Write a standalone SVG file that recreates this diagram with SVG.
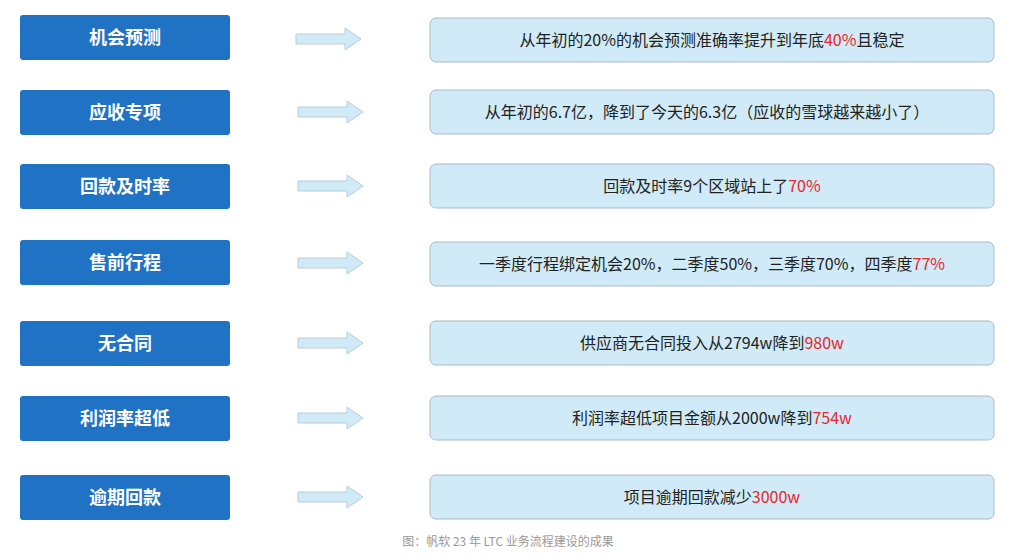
<svg xmlns="http://www.w3.org/2000/svg" width="1031" height="558" viewBox="0 0 1031 558">
<style>
.l{fill:#1f72c4;rx:3}
.lt{font-family:"Noto Sans CJK SC",sans-serif;font-size:18px;font-weight:bold;fill:#fff;text-anchor:middle}
.r{fill:#d0ebf7;stroke:#a9b8c4;stroke-width:1}
.rt{font-family:"Noto Sans CJK SC",sans-serif;font-size:16px;fill:#222;text-anchor:middle}
.red{fill:#e8262b}
.a{fill:#d0ebf7;stroke:#b9cdd8;stroke-width:1}
.cap{font-family:"Noto Sans CJK SC",sans-serif;font-size:12px;fill:#999;text-anchor:middle}
</style>
<defs><path id="arr" class="a" d="M0,-5 H49 V-11 L65,0 L49,11 V5 H0 Z"/></defs>
<g id="connectors">
<use href="#arr" x="296" y="39"/>
<use href="#arr" x="298" y="112"/>
<use href="#arr" x="298" y="186"/>
<use href="#arr" x="298" y="263"/>
<use href="#arr" x="298" y="343"/>
<use href="#arr" x="298" y="418"/>
<use href="#arr" x="298" y="497"/>
</g>
<g id="n1"><rect class="l" x="20" y="15" width="210" height="45" rx="3"/><text class="lt" x="125" y="44">机会预测</text></g>
<g id="n2"><rect class="l" x="20" y="90" width="210" height="45" rx="3"/><text class="lt" x="125" y="119">应收专项</text></g>
<g id="n3"><rect class="l" x="20" y="164" width="210" height="45" rx="3"/><text class="lt" x="125" y="193">回款及时率</text></g>
<g id="n4"><rect class="l" x="20" y="240" width="210" height="45" rx="3"/><text class="lt" x="125" y="269">售前行程</text></g>
<g id="n5"><rect class="l" x="20" y="321" width="210" height="45" rx="3"/><text class="lt" x="125" y="350">无合同</text></g>
<g id="n6"><rect class="l" x="20" y="396" width="210" height="45" rx="3"/><text class="lt" x="125" y="425">利润率超低</text></g>
<g id="n7"><rect class="l" x="20" y="475" width="210" height="45" rx="3"/><text class="lt" x="125" y="504">逾期回款</text></g>
<g id="r1"><rect class="r" x="430" y="18" width="564" height="44" rx="6"/><text class="rt" x="712" y="46">从年初的20%的机会预测准确率提升到年底<tspan class="red">40%</tspan>且稳定</text></g>
<g id="r2"><rect class="r" x="430" y="90" width="564" height="44" rx="6"/><text class="rt" x="707" y="118">从年初的6.7亿，降到了今天的6.3亿（应收的雪球越来越小了）</text></g>
<g id="r3"><rect class="r" x="430" y="164" width="564" height="44" rx="6"/><text class="rt" x="712" y="192">回款及时率9个区域站上了<tspan class="red">70%</tspan></text></g>
<g id="r4"><rect class="r" x="430" y="242" width="564" height="44" rx="6"/><text class="rt" x="712" y="270">一季度行程绑定机会20%，二季度50%，三季度70%，四季度<tspan class="red">77%</tspan></text></g>
<g id="r5"><rect class="r" x="430" y="321" width="564" height="44" rx="6"/><text class="rt" x="712" y="349">供应商无合同投入从2794w降到<tspan class="red">980w</tspan></text></g>
<g id="r6"><rect class="r" x="430" y="396" width="564" height="44" rx="6"/><text class="rt" x="712" y="424">利润率超低项目金额从2000w降到<tspan class="red">754w</tspan></text></g>
<g id="r7"><rect class="r" x="430" y="475" width="564" height="44" rx="6"/><text class="rt" x="712" y="503">项目逾期回款减少<tspan class="red">3000w</tspan></text></g>
<text class="cap" x="508" y="546">图：帆软 23 年 LTC 业务流程建设的成果</text>
</svg>
